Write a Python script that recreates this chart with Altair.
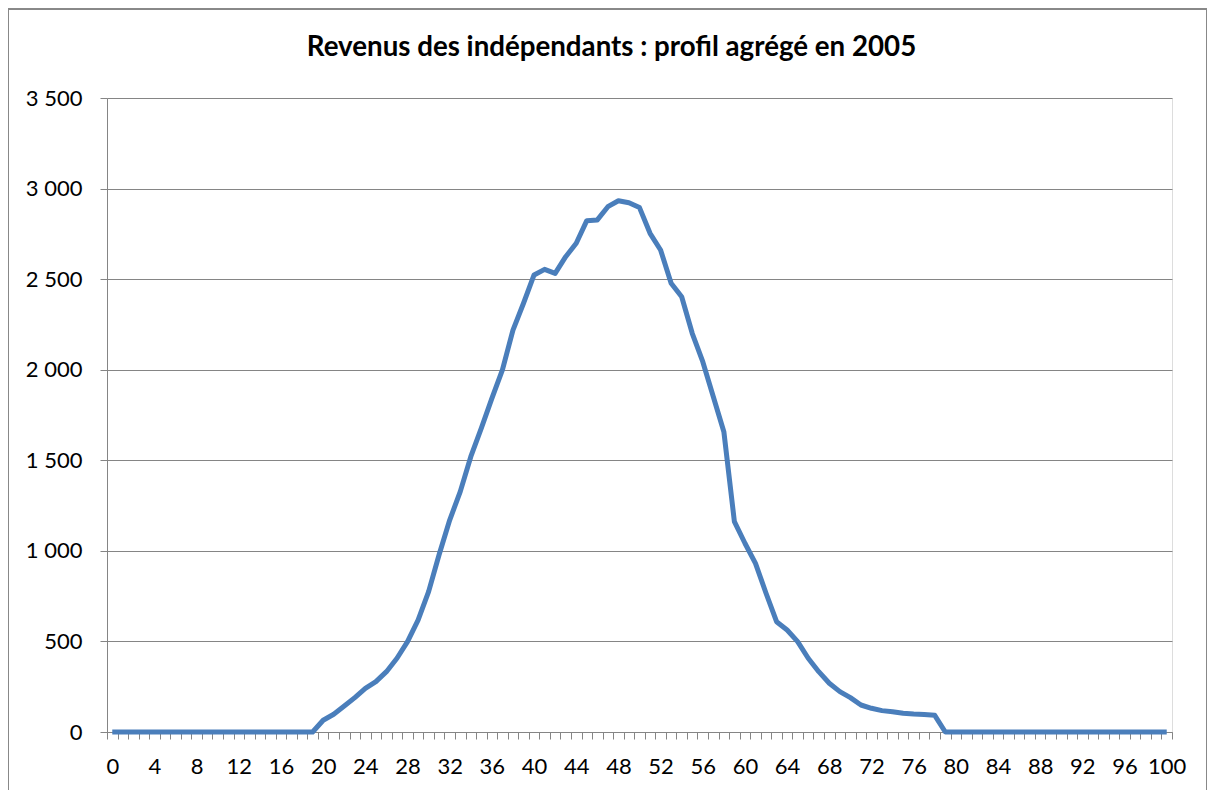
import altair as alt
import pandas as pd

ages = list(range(0, 101))
revenus = (
    [0] * 20
    + [65, 98, 143, 190, 241, 278, 333, 407, 499, 618,
       775, 980, 1170, 1327, 1520, 1677, 1842, 1999, 2219, 2367,
       2523, 2554, 2532, 2624, 2698, 2823, 2827, 2900, 2933, 2922,
       2895, 2753, 2661, 2477, 2403, 2201, 2044, 1851, 1658, 1161,
       1042, 931, 766, 609, 563, 499, 407, 333, 269, 223,
       190, 149, 131, 118, 112, 103, 99, 97, 92]
    + [0] * 22
)
y_ticks = [0, 500, 1000, 1500, 2000, 2500, 3000, 3500]
title_text = "Revenus des indépendants : profil agrégé en 2005"

df = pd.DataFrame({"age": ages, "revenu": revenus})

FONT = "Lato"
GRID = "#858585"
W, H = 1065, 634
PAD = {"left": 99, "top": 90, "right": 35, "bottom": 58}

line = alt.Chart(df).mark_line(color="#4A7EBB", strokeWidth=5, strokeJoin="round").encode(
    x=alt.X(
        "age:O",
        bandPosition=0.5,
        scale=alt.Scale(type="band", paddingInner=0, paddingOuter=0),
        axis=alt.Axis(
            title=None,
            tickBand="extent",
            labelExpr="datum.value % 4 == 0 ? datum.label : ''",
            labelAngle=0,
            labelOverlap=False,
            labelFont=FONT,
            labelFontSize=22,
            labelColor="#000000",
            labelPadding=17,
            tickSize=7,
            tickColor=GRID,
            domainColor=GRID,
            grid=False,
        ),
    ),
    y=alt.Y(
        "revenu:Q",
        scale=alt.Scale(domain=[0, 3500], nice=False),
        axis=alt.Axis(
            title=None,
            values=y_ticks,
            labelExpr="replace(format(datum.value, ','), ',', ' ')",
            labelFont=FONT,
            labelFontSize=22,
            labelColor="#000000",
            labelPadding=18,
            tickSize=7,
            tickColor=GRID,
            domainColor=GRID,
            gridColor=GRID,
            gridWidth=1,
            gridOpacity=1,
        ),
    ),
)

frame = alt.Chart(df).mark_rect(fill=None, stroke="#888888", strokeWidth=1).encode(
    x=alt.value(-PAD["left"] + 0.5),
    x2=alt.value(W + PAD["right"] - 0.5),
    y=alt.value(-PAD["top"] + 1),
    y2=alt.value(H + PAD["bottom"] + 50),
)

chart = alt.layer(frame, line).properties(
    width=W,
    height=H,
    padding=PAD,
    autosize=alt.AutoSizeParams(type="none"),
    title=alt.TitleParams(
        text=title_text,
        font=FONT,
        fontSize=27.7,
        fontWeight="bold",
        color="#000000",
        anchor="middle",
        frame="group",
        dx=-28,
        dy=91,
        offset=38,
    ),
).configure_view(stroke=None).configure(background="white")

chart.save("out.html", embed_options={"renderer": "svg", "actions": False})
